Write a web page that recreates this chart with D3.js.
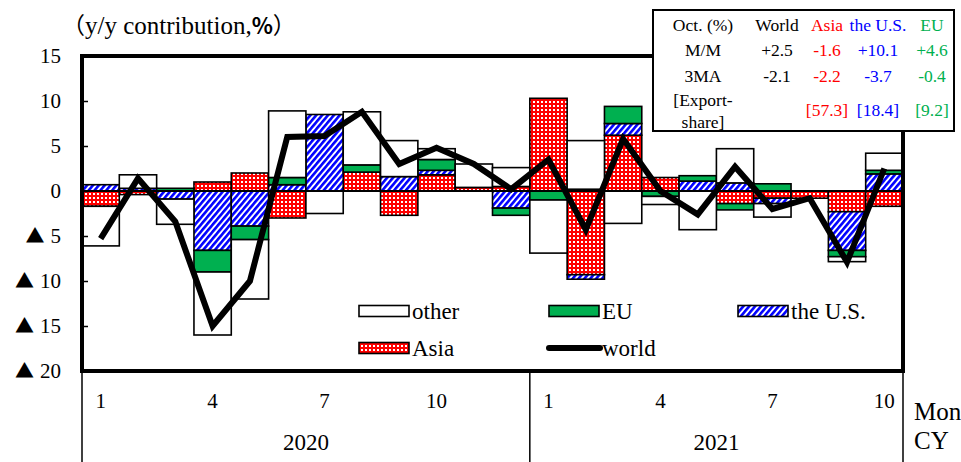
<!DOCTYPE html>
<html>
<head>
<meta charset="utf-8">
<script src="https://cdn.jsdelivr.net/npm/d3@7"></script>
<style>
  body { margin: 0; background: #fff; }
  svg { display: block; }
  text { font-family: "Liberation Serif", "Times New Roman", serif; fill: #000; }
</style>
</head>
<body>
<svg id="chart" width="961" height="462"></svg>
<script>
// Monthly export growth (y/y), contribution by destination, Jan 2020 – Oct 2021
const categories = ["2020-01","2020-02","2020-03","2020-04","2020-05","2020-06",
                    "2020-07","2020-08","2020-09","2020-10","2020-11","2020-12",
                    "2021-01","2021-02","2021-03","2021-04","2021-05","2021-06",
                    "2021-07","2021-08","2021-09","2021-10"];
const asia  = [-1.7, -0.4,  0.0,  1.0,  2.0, -3.0,  0.0,  2.1, -2.7,  1.8,  0.4,  0.5,
               10.3, -9.3,  6.2,  1.5,  0.0, -1.4, -0.8, -0.8, -2.3, -1.7];
const us    = [ 0.7,  0.3, -0.9, -6.6, -3.9,  0.7,  8.5,  0.0,  1.6,  0.5,  0.0, -1.9,
                0.0, -0.5,  1.3,  0.0,  1.1,  0.9, -0.6,  0.0, -4.3,  1.9];
const eu    = [ 0.0,  0.0,  0.3, -2.4, -1.5,  0.8,  0.0,  0.8,  0.0,  1.2,  0.0, -0.8,
               -1.0,  0.2,  1.9, -0.6,  0.6, -0.7,  0.8,  0.0, -0.7,  0.4];
const other = [-4.4,  1.5, -2.8, -7.0, -6.6,  7.4, -2.5,  5.9,  4.0,  1.2,  2.6,  2.1,
               -5.9,  5.4, -3.6, -0.9, -4.3,  3.8, -1.5,  0.0, -0.55, 1.9];
const world = [-5.3,  1.4, -3.4, -15.0, -10.0, 6.0,  6.1,  8.8,  3.0,  4.8,  3.0,  0.2,
                3.5, -4.3,  5.8,  0.0, -2.6,  2.7, -2.0, -0.8, -7.9,  2.5];

const yTickValues = [15, 10, 5, 0, -5, -10, -15, -20];
const shownMonths = ["1", "4", "7", "10"];
const years = ["2020", "2021"];

// Summary table for October
const tableHeader = ["Oct. (%)", "World", "Asia", "the U.S.", "EU"];
const rowMM    = ["+2.5", "-1.6", "+10.1", "+4.6"];
const row3MA   = ["-2.1", "-2.2", "-3.7", "-0.4"];
const rowShare = ["", "[57.3]", "[18.4]", "[9.2]"];

const C_ASIA = "#ff0000", C_US = "#0000ff", C_EU = "#00b050";
const CJK = "Noto Sans CJK JP";

const svg = d3.select("#chart");
const W = 961, H = 462;
const plot = { left: 82, right: 903, top: 56, bottom: 371 };

const x = d3.scaleBand().domain(categories).range([plot.left, plot.right]).padding(0);
const y = d3.scaleLinear().domain([-20, 15]).range([plot.bottom, plot.top]);

// fill patterns
const defs = svg.append("defs");
const pAsia = defs.append("pattern").attr("id", "pAsia")
  .attr("patternUnits", "userSpaceOnUse").attr("width", 4).attr("height", 4);
pAsia.append("rect").attr("width", 4).attr("height", 4).attr("fill", C_ASIA);
pAsia.append("rect").attr("x", 1).attr("y", 1).attr("width", 2).attr("height", 2).attr("fill", "#fff");

const pUS = defs.append("pattern").attr("id", "pUS")
  .attr("patternUnits", "userSpaceOnUse").attr("width", 4.5).attr("height", 8)
  .attr("patternTransform", "rotate(40)");
pUS.append("rect").attr("width", 4.5).attr("height", 8).attr("fill", "#fff");
pUS.append("rect").attr("width", 2.6).attr("height", 8).attr("fill", C_US);

const keys = ["Asia", "US", "EU", "other"];
const fills = { Asia: "url(#pAsia)", US: "url(#pUS)", EU: C_EU, other: "#fff" };
const rows = categories.map((c, i) => ({ cat: c, Asia: asia[i], US: us[i], EU: eu[i], other: other[i] }));
const stacked = d3.stack().keys(keys).offset(d3.stackOffsetDiverging)(rows);

// stacked contribution bars
const gBars = svg.append("g");
stacked.forEach(layer => {
  gBars.append("g").selectAll("rect")
    .data(layer.filter(d => d[1] !== d[0]))
    .join("rect")
    .attr("x", d => x(d.data.cat))
    .attr("width", x.bandwidth())
    .attr("y", d => y(Math.max(d[0], d[1])))
    .attr("height", d => Math.abs(y(d[0]) - y(d[1])))
    .attr("fill", fills[layer.key])
    .attr("stroke", "#000")
    .attr("stroke-width", 1.6);
});

// zero line
svg.append("line")
  .attr("x1", plot.left).attr("x2", plot.right)
  .attr("y1", y(0)).attr("y2", y(0))
  .attr("stroke", "#000").attr("stroke-width", 2);

// world total line
const line = d3.line()
  .x((d, i) => x(categories[i]) + x.bandwidth() / 2)
  .y(d => y(d));
svg.append("path").datum(world)
  .attr("d", line)
  .attr("fill", "none").attr("stroke", "#000")
  .attr("stroke-width", 6).attr("stroke-linejoin", "miter").attr("stroke-miterlimit", 3);

// y axis with inner ticks; negatives marked with a triangle
const yAxis = d3.axisLeft(y).tickValues(yTickValues).tickSize(-6).tickPadding(21).tickFormat(() => "");
const gy = svg.append("g").attr("transform", `translate(${plot.left},0)`).call(yAxis);
gy.select(".domain").remove();
gy.selectAll(".tick line").attr("stroke", "#000").attr("stroke-width", 1.5);
gy.selectAll(".tick text").each(function(v) {
  const t = d3.select(this).attr("font-size", 21).attr("font-family", "Liberation Serif");
  if (v < 0) {
    t.append("tspan").attr("font-family", CJK).attr("font-size", 19).text("\u25B2");
    t.append("tspan").attr("dx", 6).text(Math.abs(v));
  } else {
    t.text(v);
  }
});

// plot frame
svg.append("rect")
  .attr("x", plot.left).attr("y", plot.top)
  .attr("width", plot.right - plot.left).attr("height", plot.bottom - plot.top)
  .attr("fill", "none").attr("stroke", "#000").attr("stroke-width", 4);

// category axis: month labels and year groups
const gx = svg.append("g");
categories.forEach((c, i) => {
  const m = String(+c.slice(5));
  if (shownMonths.includes(m)) {
    gx.append("text").attr("x", x(c) + x.bandwidth() / 2).attr("y", 408)
      .attr("text-anchor", "middle").attr("font-size", 21).text(m);
  }
});
const yearBounds = [plot.left, x("2021-01"), plot.right];
yearBounds.forEach(bx => {
  gx.append("line").attr("x1", bx).attr("x2", bx).attr("y1", plot.bottom).attr("y2", H)
    .attr("stroke", "#000").attr("stroke-width", 1.5);
});
years.forEach((yr, k) => {
  gx.append("text").attr("x", (yearBounds[k] + yearBounds[k + 1]) / 2).attr("y", 450)
    .attr("text-anchor", "middle").attr("font-size", 23).text(yr);
});
gx.append("text").attr("x", 914).attr("y", 420).attr("font-size", 25).text("Month");
gx.append("text").attr("x", 914).attr("y", 449).attr("font-size", 25).text("CY");

// unit label
const unit = svg.append("text").attr("x", 62).attr("y", 34).attr("font-size", 25);
unit.append("tspan").attr("font-family", CJK).attr("font-size", 23).text("\uFF08");
unit.append("tspan").text("y/y contribution,");
unit.append("tspan").attr("font-family", CJK).attr("font-weight", "bold").attr("font-size", 22).text("%");
unit.append("tspan").attr("font-family", CJK).attr("font-size", 23).text("\uFF09");

// legend
const legend = [
  { label: "other",    type: "rect", fill: "#fff",        x: 359, y: 311 },
  { label: "EU",       type: "rect", fill: C_EU,          x: 549, y: 311 },
  { label: "the U.S.", type: "rect", fill: "url(#pUS)",   x: 738, y: 311 },
  { label: "Asia",     type: "rect", fill: "url(#pAsia)", x: 359, y: 348 },
  { label: "world",    type: "line",                      x: 549, y: 348 }
];
const gl = svg.append("g");
legend.forEach(d => {
  if (d.type === "rect") {
    gl.append("rect").attr("x", d.x).attr("y", d.y - 5.5).attr("width", 50).attr("height", 11)
      .attr("fill", d.fill).attr("stroke", "#000").attr("stroke-width", 1.6);
  } else {
    gl.append("line").attr("x1", d.x).attr("x2", d.x + 51).attr("y1", d.y).attr("y2", d.y)
      .attr("stroke", "#000").attr("stroke-width", 6).attr("stroke-linecap", "round");
  }
  gl.append("text").attr("x", d.x + 53).attr("y", d.y + 8).attr("font-size", 23).text(d.label);
});

// October summary table
const tb = { x: 653, y: 10, w: 301, h: 121 };
const gt = svg.append("g");
gt.append("rect").attr("x", tb.x).attr("y", tb.y).attr("width", tb.w).attr("height", tb.h)
  .attr("fill", "#fff").attr("stroke", "#000").attr("stroke-width", 2);
const colX = [703, 777, 827, 878, 932];
const colC = ["#000", "#000", C_ASIA, C_US, C_EU];
const fs = 17.5;
tableHeader.forEach((t, i) => {
  gt.append("text").attr("x", colX[i]).attr("y", 31).attr("text-anchor", "middle")
    .attr("font-size", fs).style("fill", colC[i]).text(t);
});
gt.append("text").attr("x", colX[0]).attr("y", 56).attr("text-anchor", "middle").attr("font-size", fs).text("M/M");
gt.append("text").attr("x", colX[0]).attr("y", 82).attr("text-anchor", "middle").attr("font-size", fs).text("3MA");
gt.append("text").attr("x", colX[0]).attr("y", 106).attr("text-anchor", "middle").attr("font-size", fs).text("[Export-");
gt.append("text").attr("x", colX[0]).attr("y", 128).attr("text-anchor", "middle").attr("font-size", fs).text("share]");
[[rowMM, 56], [row3MA, 82], [rowShare, 116]].forEach(([vals, ty]) => {
  vals.forEach((v, j) => {
    gt.append("text").attr("x", colX[j + 1]).attr("y", ty).attr("text-anchor", "middle")
      .attr("font-size", fs).style("fill", colC[j + 1]).text(v);
  });
});
</script>
</body>
</html>
